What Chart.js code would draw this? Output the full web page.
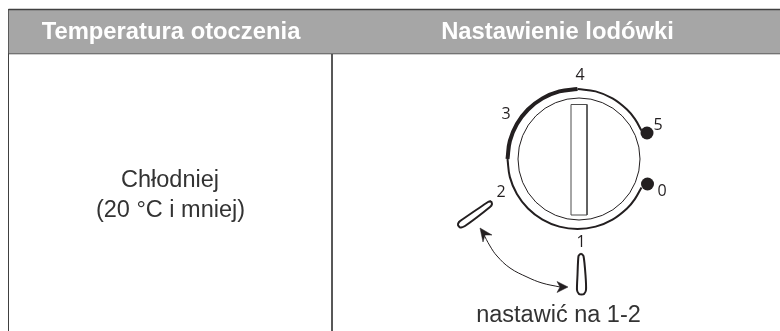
<!DOCTYPE html>
<html>
<head>
<meta charset="utf-8">
<title>Nastawienie lodówki</title>
<style>
  html, body { margin: 0; padding: 0; background: #fff; }
  canvas { display: block; }
</style>
<script src="https://cdn.jsdelivr.net/npm/chart.js@4"></script>
</head>
<body>
<canvas id="chart" width="780" height="331"></canvas>
<script>
// table text
const headers = ['Temperatura otoczenia', 'Nastawienie lodówki'];
const ambient = ['Chłodniej', '(20 °C i mniej)'];
const caption = 'nastawić na 1-2';
const dialLabels = ['0', '1', '2', '3', '4', '5'];
const dialLabelX = [662, 581, 501, 506, 580, 658];
const dialLabelY = [191, 242, 192, 114, 75.5, 125];

// dial ring, angles in degrees (0 = right, 90 = top)
const ringCentre = [577.5, 159];
const ringRadius = 70;
const thinTopAngles = [90, 75, 60, 45, 35, 24];
const thickAngles = [180, 165, 150, 135, 120, 105, 90];
const thinBottomAngles = [180, 195, 210, 225, 240, 255, 270, 285, 300, 315, 325, 336];

// knob
const knobX = [579];
const knobY = [159];
const slotX = [571, 587, 587, 571, 571];
const slotY = [104.5, 104.5, 215, 215, 104.5];
const dotX = [647, 647.5];
const dotY = [133, 184];

// pointer outlines
const pointer1X = [581, 583.5, 585.5, 586, 584, 581.5, 579, 577, 577.5, 578.5, 581];
const pointer1Y = [253.5, 256, 275, 290, 294, 294.5, 294, 290, 275, 256, 253.5];
const pointer2X = [491, 492, 490, 465, 460, 458, 459, 463, 488, 491];
const pointer2Y = [201, 204, 207, 226, 227.5, 225, 222, 219, 202, 201];

// double arrow
const arrowX = [483, 490, 497, 510, 527, 542, 560];
const arrowY = [233, 246, 256, 268, 277, 283, 287];
const headAX = [480, 492, 485, 483, 480];
const headAY = [228, 235, 235, 242, 228];
const headBX = [568, 557, 560, 557, 568];
const headBY = [287, 281.5, 287, 292.5, 287];

const zip = (xs, ys) => xs.map((x, i) => ({ x: x, y: ys[i] }));
const arc = (angles) => angles.map(a => ({
    x: ringCentre[0] + ringRadius * Math.cos(a * Math.PI / 180),
    y: ringCentre[1] - ringRadius * Math.sin(a * Math.PI / 180)
}));

const lineSet = (data, width, color, extra) => Object.assign({
    data: data,
    showLine: true,
    borderColor: color,
    borderWidth: width,
    pointRadius: 0,
    tension: 0,
    fill: false
}, extra);

const textPlugin = {
    id: 'tableText',
    afterDatasetsDraw(chart) {
        const c = chart.ctx;
        const sx = chart.scales.x;
        const sy = chart.scales.y;
        const put = (text, x, y, font, color) => {
            c.font = font;
            c.fillStyle = color;
            c.fillText(text, sx.getPixelForValue(x), sy.getPixelForValue(y));
        };
        c.save();
        c.textAlign = 'center';
        c.textBaseline = 'middle';
        const headFont = 'bold 23.8px "Liberation Sans"';
        const bodyFont = '23.5px "Liberation Sans"';
        put(headers[0], 171, 32, headFont, '#ffffff');
        put(headers[1], 557.5, 32, headFont, '#ffffff');
        put(ambient[0], 170, 181, bodyFont, '#333333');
        put(ambient[1], 170.5, 211, bodyFont, '#333333');
        put(caption, 558.5, 316, bodyFont, '#333333');
        dialLabels.forEach((t, i) => {
            put(t, dialLabelX[i], dialLabelY[i], '16px "Open Sans"', '#231f20');
        });
        c.restore();
    }
};

new Chart(document.getElementById('chart'), {
    type: 'scatter',
    data: {
        datasets: [
            // header band
            lineSet(zip([8.5, 780], [9.5, 9.5]), 1.5, '#404040', { fill: { value: 53.5 }, backgroundColor: '#a6a6a6' }),
            lineSet(zip([8.5, 780], [53.5, 53.5]), 1.5, '#404040'),
            // column rules
            lineSet(zip([8.5, 8.5], [9, 331]), 1, '#404040'),
            lineSet(zip([332, 332], [9, 331]), 1, '#404040'),
            // ring
            lineSet(arc(thinTopAngles), 2, '#231f20', { tension: 0.4 }),
            lineSet(arc(thinBottomAngles), 2, '#231f20', { tension: 0.4 }),
            lineSet(arc(thickAngles), 4, '#231f20', { tension: 0.4 }),
            // knob
            { data: zip(knobX, knobY), pointRadius: 61, pointBorderWidth: 1, pointBorderColor: '#231f20', pointBackgroundColor: 'rgba(0,0,0,0)' },
            lineSet(zip(slotX, slotY), 1, '#4d4d4d'),
            { data: zip(dotX, dotY), pointRadius: 6.5, pointBorderWidth: 0, pointBackgroundColor: '#231f20' },
            // pointers
            lineSet(zip(pointer1X, pointer1Y), 2, '#231f20', { tension: 0.2 }),
            lineSet(zip(pointer2X, pointer2Y), 2, '#231f20', { tension: 0.2 }),
            // arrow
            lineSet(zip(arrowX, arrowY), 1, '#231f20', { tension: 0.4 }),
            lineSet(zip(headAX, headAY), 0.5, '#231f20', { fill: 'shape', backgroundColor: '#231f20' }),
            lineSet(zip(headBX, headBY), 0.5, '#231f20', { fill: 'shape', backgroundColor: '#231f20' })
        ]
    },
    options: {
        responsive: false,
        animation: false,
        events: [],
        layout: { padding: 0, autoPadding: false },
        plugins: { legend: { display: false }, tooltip: { enabled: false } },
        scales: {
            x: { type: 'linear', display: false, min: 0, max: 780 },
            y: { type: 'linear', display: false, min: 0, max: 331, reverse: true }
        }
    },
    plugins: [textPlugin]
});
</script>
</body>
</html>
